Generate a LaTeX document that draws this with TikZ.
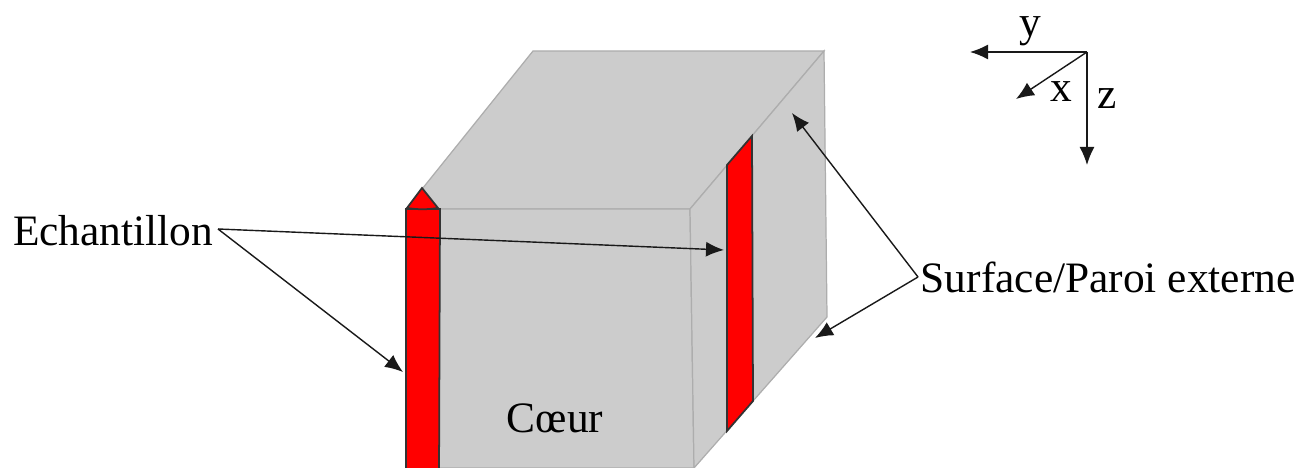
\documentclass[tikz,border=0pt]{standalone}
\usepackage{fontspec}
\setmainfont{Liberation Serif}
\usetikzlibrary{arrows.meta}
\tikzset{
  face/.style = {draw = black!32, fill = black!20, line width = 0.35pt},
  sample/.style = {draw = black!80, fill = red, line width = 0.5pt},
  pointer/.style = {-{Latex[length = 1.8mm, width = 1.5mm]}, line width = 0.4pt, black!90},
  label/.style = {inner sep = 0pt, font = \fontsize{12.35}{14}\selectfont}
}
\begin{document}
\begin{tikzpicture}
      \useasboundingbox (0, 0) rectangle (12.99, 4.68);
      \clip (0, 0) rectangle (12.99, 4.68);
      \draw [face] (4.06, 2.59) -- (5.33, 4.17) -- (8.24, 4.17) -- (6.90, 2.59) -- cycle;
      \draw [face] (4.06, 2.59) -- (6.90, 2.59) -- (6.94, 0) -- (4.06, 0) -- cycle;
      \draw [face] (6.90, 2.59) -- (8.24, 4.17) -- (8.27, 1.51) -- (6.94, 0) -- cycle;
      \draw [sample] (4.06, 2.59) -- (4.40, 2.59) -- (4.39, -0.1) -- (4.06, -0.1) -- cycle;
      \draw [sample] (4.22, 2.80) -- (4.07, 2.60) to [bend right = 8] (4.38, 2.60) -- cycle;
      \draw [sample] (7.27, 3.03) -- (7.52, 3.32) -- (7.53, 0.67) -- (7.27, 0.37) -- cycle;
      \node [label] (coeur) at (5.55, 0.50) {Cœur};
      \node [label, anchor = east] (echantillon) at (2.14, 2.37) {Echantillon};
      \node [label, anchor = west] (surface) at (9.20, 1.91) {Surface/Paroi externe};
      \coordinate (leftstrip) at (4.03, 0.96);
      \coordinate (rightstrip) at (7.24, 2.18);
      \coordinate (backface) at (7.92, 3.55);
      \coordinate (lowerface) at (8.15, 1.30);
      \draw [pointer] (echantillon.east) ++(0.04, 0.02) coordinate (e) -- (leftstrip);
      \draw [pointer] (e) -- (rightstrip);
      \draw [pointer] (surface.west) ++(-0.02, 0) coordinate (s) -- (backface);
      \draw [pointer] (s) -- (lowerface);
      \coordinate (origin) at (10.87, 4.16);
      \coordinate (yend) at (9.70, 4.16);
      \coordinate (xend) at (10.16, 3.69);
      \coordinate (zend) at (10.87, 3.03);
      \draw [pointer] (origin) -- (yend);
      \draw [pointer] (origin) -- (xend);
      \draw [pointer] (origin) -- (zend);
      \node [label] (ylabel) at (10.30, 4.37) {y};
      \node [label] (xlabel) at (10.61, 3.76) {x};
      \node [label] (zlabel) at (11.07, 3.69) {z};
    \end{tikzpicture}
\end{document}
